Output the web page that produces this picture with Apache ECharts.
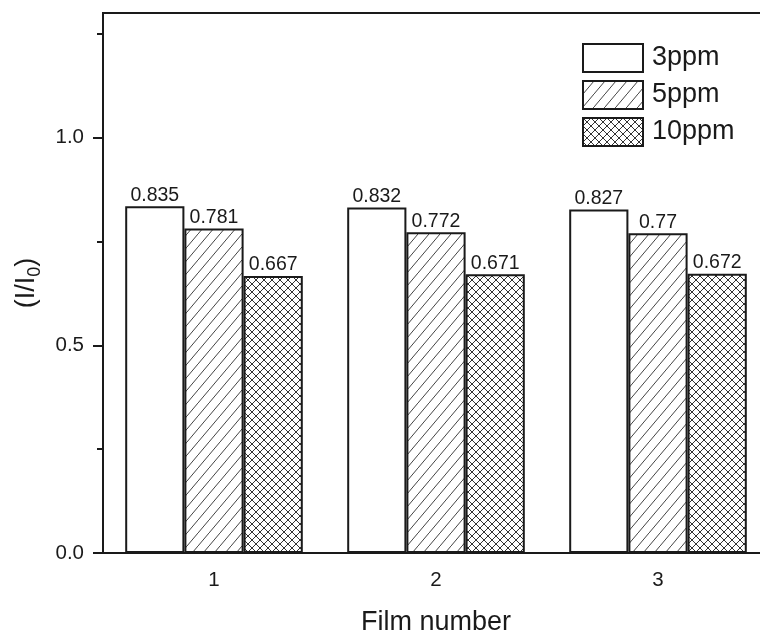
<!DOCTYPE html>
<html>
<head>
<meta charset="utf-8">
<script src="https://cdn.jsdelivr.net/npm/echarts@6/dist/echarts.min.js"></script>
<style>
  html, body { margin: 0; padding: 0; background: #fff; }
  #chart { width: 760px; height: 634px; }
</style>
</head>
<body>
<div id="chart"></div>
<script>
// Film response data
const categories = ['1', '2', '3'];
const seriesNames = ['3ppm', '5ppm', '10ppm'];
const ppm3 = [0.835, 0.832, 0.827];
const ppm5 = [0.781, 0.772, 0.77];
const ppm10 = [0.667, 0.671, 0.672];
const yMajorTicks = [0, 0.5, 1.0];
const yMinorTicks = [0.25, 0.75, 1.25];

const INK = '#1a1a1a';
const FONT = '"Liberation Sans", Arial, sans-serif';

// Hatch fills drawn into small repeating tiles
function diagonalTile() {
  const w = 11, h = 13;
  const c = document.createElement('canvas');
  c.width = w; c.height = h;
  const g = c.getContext('2d');
  g.fillStyle = '#fff';
  g.fillRect(0, 0, w, h);
  g.strokeStyle = '#444';
  g.lineWidth = 1;
  g.beginPath();
  g.moveTo(-w, 2 * h); g.lineTo(2 * w, -h);
  g.stroke();
  return c;
}
function crossTile() {
  const s = 8;
  const c = document.createElement('canvas');
  c.width = s; c.height = s;
  const g = c.getContext('2d');
  g.fillStyle = '#fff';
  g.fillRect(0, 0, s, s);
  g.strokeStyle = '#333';
  g.lineWidth = 1;
  g.beginPath();
  g.moveTo(-s, 2 * s); g.lineTo(2 * s, -s);
  g.moveTo(-s, -s); g.lineTo(2 * s, 2 * s);
  g.stroke();
  return c;
}

const fills = [
  '#ffffff',
  { image: diagonalTile(), repeat: 'repeat' },
  { image: crossTile(), repeat: 'repeat' }
];
const values = [ppm3, ppm5, ppm10];

const chart = echarts.init(document.getElementById('chart'), null, { renderer: 'canvas' });

chart.setOption({
  animation: false,
  backgroundColor: '#fff',
  textStyle: { fontFamily: FONT, color: INK },
  grid: {
    left: 103, top: 13, width: 666, height: 540,
    outerBoundsMode: 'none',
    containLabel: false,
    show: true, borderColor: INK, borderWidth: 2, backgroundColor: 'transparent'
  },
  legend: {
    data: seriesNames,
    orient: 'vertical',
    left: 582, top: 43,
    padding: 0,
    itemWidth: 60, itemHeight: 28, itemGap: 7,
    icon: 'rect',
    textStyle: { fontSize: 27, color: INK, fontFamily: FONT, padding: [0, 0, 0, 4] }
  },
  xAxis: [
    {
      type: 'category',
      data: categories,
      position: 'bottom',
      axisLine: { lineStyle: { color: INK, width: 2 } },
      axisTick: { alignWithLabel: true, length: 10, lineStyle: { color: INK, width: 2 } },
      axisLabel: { fontSize: 20.5, color: INK, margin: 17, fontFamily: FONT },
      splitLine: { show: false },
      name: 'Film number',
      nameLocation: 'middle',
      nameGap: 56,
      nameTextStyle: { fontSize: 27, color: INK, fontFamily: FONT }
    },
    {
      type: 'category',
      data: categories,
      position: 'bottom',
      axisLine: { show: false },
      axisTick: { length: 5, lineStyle: { color: INK, width: 2 } },
      axisLabel: { show: false },
      splitLine: { show: false }
    }
  ],
  yAxis: [
    {
      type: 'value',
      min: 0, max: 1.3,
      position: 'left',
      axisLine: { show: true, lineStyle: { color: INK, width: 2 } },
      axisTick: { show: true, length: 10, customValues: yMajorTicks, lineStyle: { color: INK, width: 2 } },
      axisLabel: {
        customValues: yMajorTicks,
        formatter: v => Number(v).toFixed(1),
        fontSize: 20.5, color: INK, margin: 19, fontFamily: FONT
      },
      splitLine: { show: false },
      name: '(I/I{s|0})',
      nameLocation: 'middle',
      nameRotate: 90,
      nameGap: 59,
      nameTextStyle: {
        fontSize: 27, color: INK, fontFamily: FONT, lineHeight: 34,
        rich: { s: { fontSize: 18, lineHeight: 18, verticalAlign: 'bottom', color: INK, fontFamily: FONT } }
      }
    },
    {
      type: 'value',
      min: 0, max: 1.3,
      position: 'left',
      axisLine: { show: false },
      axisTick: { show: true, length: 6, customValues: yMinorTicks, lineStyle: { color: INK, width: 2 } },
      axisLabel: { show: false },
      splitLine: { show: false }
    }
  ],
  series: seriesNames.map((name, i) => ({
    name,
    type: 'bar',
    xAxisIndex: 0,
    yAxisIndex: 0,
    data: values[i],
    barGap: '0%',
    barCategoryGap: '20%',
    itemStyle: { color: fills[i], borderColor: INK, borderWidth: 2 },
    label: {
      show: true, position: 'top', distance: 1,
      fontSize: 19.5, color: INK, fontFamily: FONT
    }
  }))
});
</script>
</body>
</html>
